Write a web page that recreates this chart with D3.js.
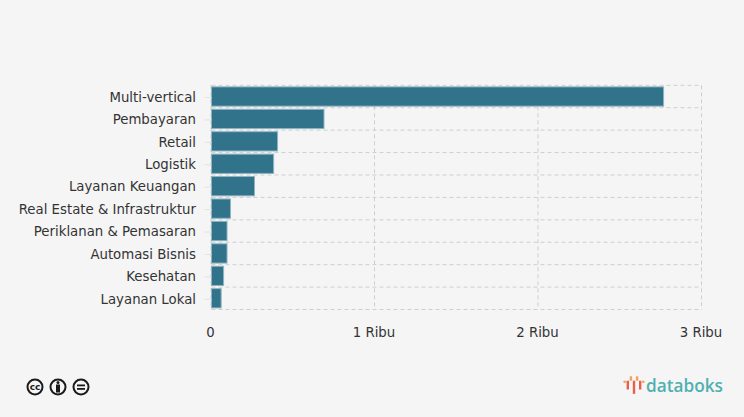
<!DOCTYPE html>
<html lang="en">
    <head>
        <meta charset="utf-8">
        <title>Databoks</title>
        <script type="text/javascript" src="https://cdn.jsdelivr.net/npm/d3@7"></script>
        <style>
            html, body { margin: 0; padding: 0; background: #f5f5f5; overflow: hidden; }
            svg { display: block; }
        </style>
    </head>
    <body>
        <script type="text/javascript">

        var categories = ["Multi-vertical", "Pembayaran", "Retail", "Logistik", "Layanan Keuangan",
                          "Real Estate & Infrastruktur", "Periklanan & Pemasaran", "Automasi Bisnis",
                          "Kesehatan", "Layanan Lokal"];
        var values = [2765, 688, 404, 380, 263, 116, 95, 95, 74, 59];
        var xTicks = [0, 1000, 2000, 3000];
        var xTickLabels = ["0", "1 Ribu", "2 Ribu", "3 Ribu"];

        // logo bars: [offset from centre, top, bottom, colour]
        var logoBars = [[-3, 1, 2, "#f0a35c"], [-2, 1, 5, "#e8604c"], [-1, -1, 1, "#f0a35c"], [0, 1, 7, "#e8604c"],
                        [1, -1, 1, "#f0a35c"], [2, 1, 5, "#e8604c"], [3, 1, 2, "#f0a35c"]];

        var w = 744;
        var h = 417;
        var font = "'DejaVu Sans', sans-serif";

        var svg = d3.select("body")
            .append("svg")
            .attr("width", w)
            .attr("height", h);

        var x = d3.scaleLinear()
            .domain([0, 3000])
            .range([211.5, 702]);

        var y = d3.scaleBand()
            .domain(categories)
            .range([85.3, 309.5])
            .paddingInner(0.14)
            .paddingOuter(0.07);

        var step = y.step();

        // horizontal grid on the band edges
        svg.selectAll("line.hgrid")
           .data(d3.range(categories.length + 1))
           .enter()
           .append("line")
           .attr("class", "hgrid")
           .attr("x1", x(0))
           .attr("x2", x(3000))
           .attr("y1", function(d) { return 85.3 + d * step; })
           .attr("y2", function(d) { return 85.3 + d * step; })
           .attr("stroke", "#cfcfcf")
           .attr("stroke-width", 1)
           .attr("stroke-dasharray", "4,3");

        svg.selectAll("line.vgrid")
           .data(xTicks)
           .enter()
           .append("line")
           .attr("class", "vgrid")
           .attr("x1", function(d) { return x(d) - 0.5; })
           .attr("x2", function(d) { return x(d) - 0.5; })
           .attr("y1", 85.3)
           .attr("y2", 309.5)
           .attr("stroke", "#cfcfcf")
           .attr("stroke-width", 1)
           .attr("stroke-dasharray", "4,3");

        svg.selectAll("rect.bar")
           .data(values)
           .enter()
           .append("rect")
           .attr("class", "bar")
           .attr("x", x(0))
           .attr("y", function(d, i) { return y(categories[i]); })
           .attr("width", function(d) { return x(d) - x(0); })
           .attr("height", y.bandwidth())
           .attr("fill", "#31738a")
           .attr("stroke", "#8fb4c1")
           .attr("stroke-width", 1);

        // y axis
        var yAxis = svg.append("g")
            .attr("transform", "translate(" + x(0) + ",1)")
            .call(d3.axisLeft(y).tickSize(7).tickPadding(8.5));
        yAxis.select(".domain").remove();
        yAxis.selectAll("line").attr("stroke", "#e2e2e2");
        yAxis.selectAll("text")
             .attr("font-family", font)
             .attr("font-size", "13.3px")
             .attr("fill", "#333333");

        // x axis
        var xAxis = svg.append("g")
            .attr("transform", "translate(-1.5,309.5)")
            .call(d3.axisBottom(x)
                .tickValues(xTicks)
                .tickSize(0)
                .tickPadding(18)
                .tickFormat(function(d, i) { return xTickLabels[i]; }));
        xAxis.select(".domain").remove();
        xAxis.selectAll("text")
             .attr("font-family", font)
             .attr("font-size", "13.3px")
             .attr("fill", "#333333");

        // licence badges
        var badges = svg.append("g")
            .attr("fill", "none")
            .attr("stroke", "#1a1a1a")
            .attr("stroke-width", 2);
        [35, 58, 81].forEach(function(cx) {
            badges.append("circle")
                  .attr("cx", cx)
                  .attr("cy", 387)
                  .attr("r", 7.5)
                  .attr("fill", "#f5f5f5");
        });
        svg.append("text")
           .text("cc")
           .attr("x", 35)
           .attr("y", 390)
           .attr("text-anchor", "middle")
           .attr("font-family", font)
           .attr("font-size", "9px")
           .attr("font-weight", "bold")
           .attr("fill", "#1a1a1a");
        svg.append("circle")
           .attr("cx", 58)
           .attr("cy", 382.5)
           .attr("r", 1.5)
           .attr("fill", "#1a1a1a");
        svg.append("rect")
           .attr("x", 56)
           .attr("y", 384.5)
           .attr("width", 4)
           .attr("height", 8)
           .attr("fill", "#1a1a1a");
        svg.selectAll("rect.eq")
           .data([384.5, 388])
           .enter()
           .append("rect")
           .attr("class", "eq")
           .attr("x", 77)
           .attr("y", function(d) { return d; })
           .attr("width", 8)
           .attr("height", 1.8)
           .attr("fill", "#1a1a1a");

        // databoks logo
        svg.selectAll("rect.logo")
           .data(logoBars)
           .enter()
           .append("rect")
           .attr("class", "logo")
           .attr("x", function(d) { return 634 + d[0] * 3.1 - 1.2; })
           .attr("y", function(d) { return 378.5 + d[1] * 2.2; })
           .attr("width", 2.4)
           .attr("height", function(d) { return (d[2] - d[1]) * 2.2; })
           .attr("fill", function(d) { return d[3]; });

        svg.append("text")
           .text("databoks")
           .attr("x", 646)
           .attr("y", 391.5)
           .attr("font-family", "'Open Sans', sans-serif")
           .attr("font-size", "17.2px")
           .attr("font-weight", "600")
           .attr("fill", "#4fb0b0");
        </script>
    </body>
</html>
